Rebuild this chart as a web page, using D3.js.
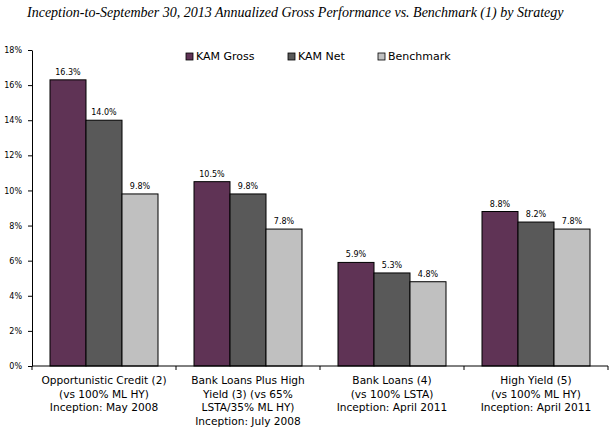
<!DOCTYPE html>
<html>
<head>
<meta charset="utf-8">
<script src="https://cdn.jsdelivr.net/npm/d3@7"></script>
<style>
    body { margin: 0; background: #fff; }
    svg { display: block; }
</style>
</head>
<body>
<svg id="chart" width="612" height="429"></svg>
<script>
const strategies = [
    ['Opportunistic Credit (2)', '(vs 100% ML HY)', 'Inception: May 2008'],
    ['Bank Loans Plus High', 'Yield (3) (vs 65%', 'LSTA/35% ML HY)', 'Inception: July 2008'],
    ['Bank Loans (4)', '(vs 100% LSTA)', 'Inception: April 2011'],
    ['High Yield (5)', '(vs 100% ML HY)', 'Inception: April 2011']
];
const seriesNames = ['KAM Gross', 'KAM Net', 'Benchmark'];
const kamGross = [16.3, 10.5, 5.9, 8.8];
const kamNet = [14.0, 9.8, 5.3, 8.2];
const benchmark = [9.8, 7.8, 4.8, 7.8];
const yTicks = [0, 2, 4, 6, 8, 10, 12, 14, 16, 18];

const colors = ['#5f3355', '#595959', '#c0c0c0'];
const allSeries = [kamGross, kamNet, benchmark];

const svg = d3.select('#chart');
const plotLeft = 32, plotRight = 608, plotTop = 50, plotBottom = 366;

// Title
svg.append('text')
    .attr('x', 27)
    .attr('y', 17)
    .attr('font-family', 'Liberation Serif, serif')
    .attr('font-style', 'italic')
    .attr('font-size', 14)
    .text('Inception-to-September 30, 2013 Annualized Gross Performance vs. Benchmark (1) by Strategy');

const x = d3.scaleBand()
    .domain(d3.range(strategies.length))
    .range([plotLeft, plotRight])
    .paddingInner(0.25)
    .paddingOuter(0.125);

const xInner = d3.scaleBand()
    .domain(d3.range(seriesNames.length))
    .range([0, x.bandwidth()]);

const y = d3.scaleLinear().domain([0, 18]).range([plotBottom, plotTop]);

// Y axis
const yAxis = svg.append('g')
    .attr('transform', `translate(${plotLeft},0)`)
    .call(d3.axisLeft(y).tickValues(yTicks).tickFormat(d => d + '%').tickSize(4).tickSizeOuter(0));
yAxis.selectAll('text')
    .attr('font-family', 'DejaVu Sans, sans-serif')
    .attr('font-size', 8)
    .attr('fill', '#000')
    .attr('dx', -3);

// Bars
strategies.forEach((s, i) => {
    const g = svg.append('g').attr('transform', `translate(${x(i)},0)`);
    allSeries.forEach((vals, j) => {
        g.append('rect')
            .attr('x', xInner(j))
            .attr('y', y(vals[i]))
            .attr('width', xInner.bandwidth())
            .attr('height', y(0) - y(vals[i]))
            .attr('fill', colors[j])
            .attr('stroke', '#000')
            .attr('stroke-width', 1);
        g.append('text')
            .attr('x', xInner(j) + xInner.bandwidth() / 2)
            .attr('y', y(vals[i]) - 5)
            .attr('text-anchor', 'middle')
            .attr('font-family', 'DejaVu Sans, sans-serif')
            .attr('font-size', 8)
            .text(vals[i].toFixed(1) + '%');
    });
});

// X axis line with ticks between categories
const xTicks = d3.range(strategies.length + 1).map(i => plotLeft + i * x.step());
svg.append('line')
    .attr('x1', plotLeft).attr('x2', plotRight)
    .attr('y1', plotBottom).attr('y2', plotBottom)
    .attr('stroke', '#000');
svg.selectAll('.xtick')
    .data(xTicks)
    .enter()
    .append('line')
    .attr('x1', d => d).attr('x2', d => d)
    .attr('y1', plotBottom).attr('y2', plotBottom + 4)
    .attr('stroke', '#000');

// Category labels
strategies.forEach((lines, i) => {
    const t = svg.append('text')
        .attr('text-anchor', 'middle')
        .attr('font-family', 'DejaVu Sans, sans-serif')
        .attr('font-size', 10.6);
    lines.forEach((line, k) => {
        t.append('tspan')
            .attr('x', x(i) + x.bandwidth() / 2)
            .attr('y', plotBottom + 18 + k * 13.5)
            .text(line);
    });
});

// Legend
const legendX = [186, 288, 378];
seriesNames.forEach((name, j) => {
    svg.append('rect')
        .attr('x', legendX[j])
        .attr('y', 53)
        .attr('width', 7)
        .attr('height', 7)
        .attr('fill', colors[j])
        .attr('stroke', '#000')
        .attr('stroke-width', 0.8);
    svg.append('text')
        .attr('x', legendX[j] + 10)
        .attr('y', 60)
        .attr('font-family', 'DejaVu Sans, sans-serif')
        .attr('font-size', 11)
        .text(name);
});
</script>
</body>
</html>
